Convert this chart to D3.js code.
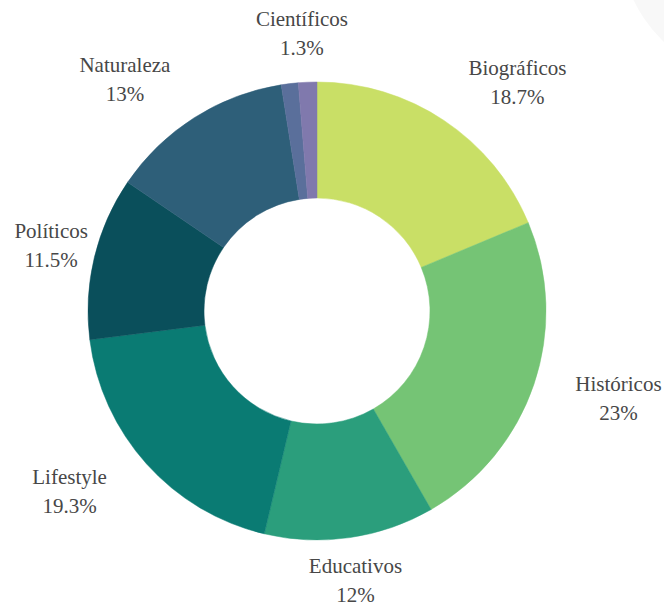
<!DOCTYPE html>
<html>
<head>
<meta charset="utf-8">
<script src="https://cdn.jsdelivr.net/npm/d3@7/dist/d3.min.js"></script>
<style>
  body { margin: 0; }
  #wrap { position: relative; width: 664px; height: 607px; }
  #chart { display: block; position: absolute; left: 0; top: 0; }
  .lbl { position: absolute; transform: translate(-50%, 0); white-space: nowrap; text-align: center;
         font-family: "Liberation Serif", "Times New Roman", Tinos, serif; font-size: 21px; line-height: 29px; color: #474747; }
</style>
</head>
<body>
<div id="wrap"><svg id="chart" width="664" height="607"></svg></div>
<script>
// Categories of books, clockwise from 12 o'clock
const categories = ["Biográficos", "Históricos", "Educativos", "Lifestyle", "Políticos", "Naturaleza", "Otros", "Científicos"];
const shares = [18.7, 23, 12, 19.3, 11.5, 13, 1.2, 1.3];
const valueLabels = ["18.7%", "23%", "12%", "19.3%", "11.5%", "13%", "", "1.3%"];
const showLabel = [true, true, true, true, true, true, false, true];
const sliceColors = ["#c9df66", "#75c475", "#2b9e7c", "#0a7b73", "#0a4f5b", "#2e5f79", "#5a6f9b", "#8079ad"];

// Layout
const cx = 317, cy = 311;
const outerR = 229, innerR = 113;
const labelR = 295;
// Per-label fine placement around the label ring
const labelNudge = [[37, 18], [22, -7], [-4, -22], [-28, -16], [21, 4], [-34, 18], [0, 0], [-3, 18]];

const data = categories.map((c, i) => ({ name: c, value: shares[i], text: valueLabels[i], show: showLabel[i], color: sliceColors[i], nudge: labelNudge[i] }));

const svg = d3.select("#chart");

// faint decorative disc in the top-right corner
svg.append("circle")
  .attr("cx", 760).attr("cy", -60).attr("r", 140)
  .attr("fill", "#f8f8f8");

const pie = d3.pie().sort(null).value(d => d.value);
const arc = d3.arc().innerRadius(innerR).outerRadius(outerR);
const arcs = pie(data);

const g = svg.append("g").attr("transform", `translate(${cx},${cy})`);

g.selectAll("path.slice")
  .data(arcs)
  .join("path")
  .attr("class", "slice")
  .attr("d", arc)
  .attr("fill", d => d.data.color)
  .attr("stroke", d => d.data.color)
  .attr("stroke-width", 0.5);

// Labels: category name over its percentage, as HTML text over the chart
const shown = arcs.filter(d => d.data.show);
const pos = d => {
  const a = (d.startAngle + d.endAngle) / 2;
  return [cx + labelR * Math.sin(a) + d.data.nudge[0], cy - labelR * Math.cos(a) + d.data.nudge[1]];
};

const lbl = d3.select("#wrap").selectAll("div.lbl")
  .data(shown)
  .join("div")
  .attr("class", "lbl")
  .style("left", d => pos(d)[0] + "px")
  .style("top", d => (pos(d)[1] - 29) + "px");

lbl.append("div").text(d => d.data.name);
lbl.append("div").text(d => d.data.text);
</script>
</body>
</html>
